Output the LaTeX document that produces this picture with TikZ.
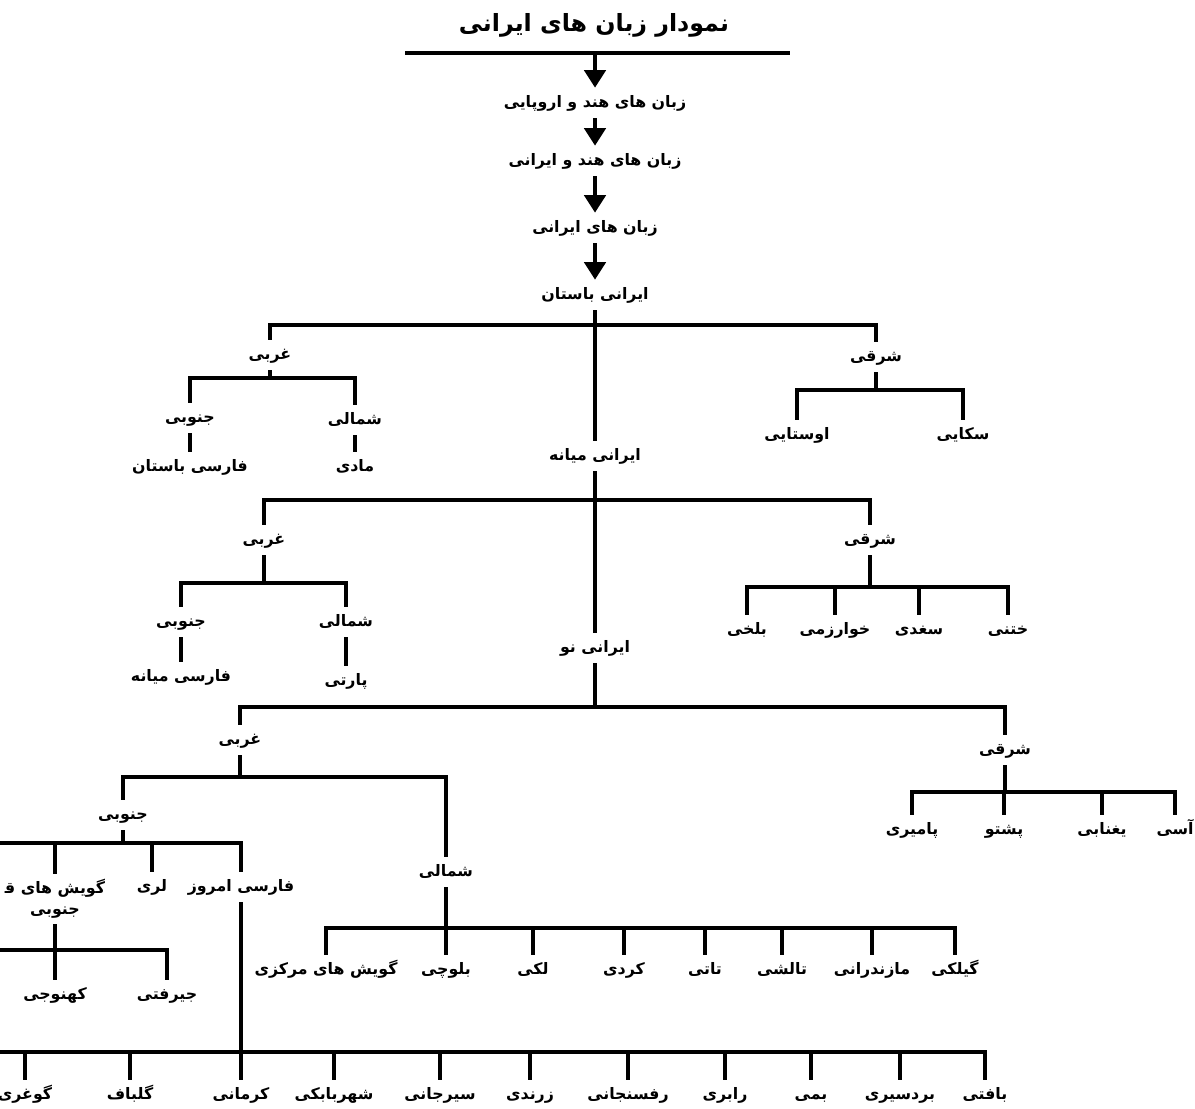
\documentclass[tikz,border=0pt]{standalone}
\usepackage{fontspec}
\newfontfamily\fa[Script=Arabic]{DejaVu Sans}
\TeXXeTstate=1
\usetikzlibrary{arrows.meta}
\newcommand{\fatxt}[1]{\beginR#1\endR}
\tikzset{
  lbl/.style={font=\fa\bfseries\fontsize{9}{12}\selectfont, inner sep=3pt,
    text height=8pt, text depth=3pt},
  ttl/.style={font=\fa\bfseries\fontsize{13.5}{16}\selectfont, inner sep=2pt},
  tree/.style={line width=1.8pt},
  down/.style={line width=2.4pt, -{Triangle[width=12pt,length=10pt]}},
}
\begin{document}
\begin{tikzpicture}[x=0.02cm,y=-0.02cm]
    \useasboundingbox (0,0) rectangle (1195,1108);
    \clip (0,0) rectangle (1195,1108);
    % title and chain
    \node[ttl] (title) at (594,25) {\fatxt{نمودار زبان های ایرانی}};
    \coordinate (tl) at (405,53);
    \coordinate (tr) at (790,53);
    \coordinate (tm) at (595,53);
    \draw[line width=2.6pt] (tl) -- (tr);
    \node[lbl] (indoeu) at (595,103) {\fatxt{زبان های هند و اروپایی}};
    \node[lbl] (indoir) at (595,161) {\fatxt{زبان های هند و ایرانی}};
    \node[lbl] (iran) at (595,228) {\fatxt{زبان های ایرانی}};
    \node[lbl] (bastan) at (595,295) {\fatxt{ایرانی باستان}};
    \draw[down] (tm) -- (indoeu);
    \draw[down] (indoeu) -- (indoir);
    \draw[down] (indoir) -- (iran);
    \draw[down] (iran) -- (bastan);

    % old iranian
    \node[lbl] (ogh) at (270,355) {\fatxt{غربی}};
    \node[lbl] (osh) at (876,357) {\fatxt{شرقی}};
    \node[lbl] (ogj) at (190,418) {\fatxt{جنوبی}};
    \node[lbl] (ogs) at (355,420) {\fatxt{شمالی}};
    \node[lbl] (ofb) at (190,467) {\fatxt{فارسی باستان}};
    \node[lbl] (omd) at (355,467) {\fatxt{مادی}};
    \node[lbl] (osa) at (797,435) {\fatxt{اوستایی}};
    \node[lbl] (osk) at (963,435) {\fatxt{سکایی}};
    \coordinate (b1) at (595,325);
    \coordinate (b2) at (270,378);
    \coordinate (b3) at (876,390);
    \draw[tree] (ogh.north) |- (b1) -| (osh.north);
    \draw[tree] (ogh) -- (ogh |- b2);
    \draw[tree] (ogj.north) |- (b2) -| (ogs.north);
    \draw[tree] (ogj) -- (ofb);
    \draw[tree] (ogs) -- (omd);
    \draw[tree] (osh) -- (osh |- b3);
    \draw[tree] (osa.north) |- (b3) -| (osk.north);

    % middle iranian
    \node[lbl] (mianeh) at (595,456) {\fatxt{ایرانی میانه}};
    \node[lbl] (mgh) at (264,540) {\fatxt{غربی}};
    \node[lbl] (msh) at (870,540) {\fatxt{شرقی}};
    \node[lbl] (mgj) at (181,622) {\fatxt{جنوبی}};
    \node[lbl] (mgs) at (346,622) {\fatxt{شمالی}};
    \node[lbl] (mfm) at (181,677) {\fatxt{فارسی میانه}};
    \node[lbl] (mpa) at (346,681) {\fatxt{پارتی}};
    \node[lbl] (mbl) at (747,630) {\fatxt{بلخی}};
    \node[lbl] (mkh) at (835,630) {\fatxt{خوارزمی}};
    \node[lbl] (msg) at (919,630) {\fatxt{سغدی}};
    \node[lbl] (mkt) at (1008,630) {\fatxt{ختنی}};
    \draw[tree] (bastan) -- (mianeh);
    \coordinate (b4) at (595,500);
    \coordinate (b5) at (264,583);
    \coordinate (b6) at (870,587);
    \draw[tree] (mgh.north) |- (b4) -| (msh.north);
    \draw[tree] (mgh) -- (mgh |- b5);
    \draw[tree] (mgj.north) |- (b5) -| (mgs.north);
    \draw[tree] (mgj) -- (mfm);
    \draw[tree] (mgs) -- (mpa);
    \draw[tree] (msh) -- (msh |- b6);
    \draw[tree] (mbl.north) |- (b6) -| (mkt.north);
    \foreach \n in {mkh,msg}
        \draw[tree] (\n.north) -- (\n.north |- b6);

    % new iranian
    \node[lbl] (now) at (595,648) {\fatxt{ایرانی نو}};
    \node[lbl] (ngh) at (240,740) {\fatxt{غربی}};
    \node[lbl] (nsh) at (1005,750) {\fatxt{شرقی}};
    \node[lbl] (npa) at (912,830) {\fatxt{پامیری}};
    \node[lbl] (nps) at (1004,830) {\fatxt{پشتو}};
    \node[lbl] (nyg) at (1102,830) {\fatxt{یغنابی}};
    \node[lbl] (nas) at (1175,830) {\fatxt{آسی}};
    \draw[tree] (mianeh) -- (now);
    \coordinate (b7) at (595,707);
    \coordinate (b8) at (1005,792);
    \draw[tree] (now) -- (now |- b7);
    \draw[tree] (ngh.north) |- (b7) -| (nsh.north);
    \draw[tree] (nsh) -- (nsh |- b8);
    \draw[tree] (npa.north) |- (b8) -| (nas.north);
    \foreach \n in {nps,nyg}
        \draw[tree] (\n.north) -- (\n.north |- b8);

    % new western
    \node[lbl] (ngj) at (123,815) {\fatxt{جنوبی}};
    \node[lbl] (ngs) at (446,872) {\fatxt{شمالی}};
    \node[lbl, align=center, text height=, text depth=] (ngw) at (55,899)
        {\fatxt{گویش های ق^^^^200d}\\\fatxt{جنوبی}};
    \node[lbl] (nlr) at (152,887) {\fatxt{لری}};
    \node[lbl] (nfe) at (241,887) {\fatxt{فارسی امروز}};
    \node[lbl] (nkh) at (55,995) {\fatxt{کهنوجی}};
    \node[lbl] (njr) at (167,995) {\fatxt{جیرفتی}};
    \coordinate (b9) at (240,777);
    \coordinate (b10) at (123,843);
    \coordinate (e1) at (-10,843);
    \coordinate (e2) at (-10,950);
    \draw[tree] (ngh) -- (ngh |- b9);
    \draw[tree] (ngj.north) |- (b9) -| (ngs.north);
    \draw[tree] (ngj) -- (ngj |- b10);
    \draw[tree] (e1) -| (nfe.north);
    \foreach \n in {ngw,nlr}
        \draw[tree] (\n.north) -- (\n.north |- b10);
    \draw[tree] (ngw) -- (nkh);
    \draw[tree] (e2) -| (njr.north);

    % northern branch
    \node[lbl] (nbl) at (446,970) {\fatxt{بلوچی}};
    \node[lbl] (ngm) at (326,970) {\fatxt{گویش های مرکزی}};
    \node[lbl] (nlk) at (533,970) {\fatxt{لکی}};
    \node[lbl] (nkr) at (624,970) {\fatxt{کردی}};
    \node[lbl] (ntt) at (705,970) {\fatxt{تاتی}};
    \node[lbl] (ntl) at (782,970) {\fatxt{تالشی}};
    \node[lbl] (nmz) at (872,970) {\fatxt{مازندرانی}};
    \node[lbl] (ngl) at (955,970) {\fatxt{گیلکی}};
    \coordinate (b12) at (446,928);
    \draw[tree] (ngs) -- (nbl);
    \draw[tree] (ngm.north) |- (b12) -| (ngl.north);
    \foreach \n in {nlk,nkr,ntt,ntl,nmz}
        \draw[tree] (\n.north) -- (\n.north |- b12);

    % kerman dialects
    \node[lbl] (nkm) at (241,1095) {\fatxt{کرمانی}};
    \node[lbl] (ngo) at (25,1095) {\fatxt{گوغری}};
    \node[lbl] (ngb) at (130,1095) {\fatxt{گلباف}};
    \node[lbl] (nsb) at (334,1095) {\fatxt{شهربابکی}};
    \node[lbl] (nsj) at (440,1095) {\fatxt{سیرجانی}};
    \node[lbl] (nzr) at (530,1095) {\fatxt{زرندی}};
    \node[lbl] (nrf) at (628,1095) {\fatxt{رفسنجانی}};
    \node[lbl] (nrb) at (725,1095) {\fatxt{رابری}};
    \node[lbl] (nbm) at (811,1095) {\fatxt{بمی}};
    \node[lbl] (nbr) at (900,1095) {\fatxt{بردسیری}};
    \node[lbl] (nbf) at (985,1095) {\fatxt{بافتی}};
    \coordinate (e3) at (-10,1052);
    \draw[tree] (nfe) -- (nkm);
    \draw[tree] (e3) -| (nbf.north);
    \foreach \n in {ngo,ngb,nsb,nsj,nzr,nrf,nrb,nbm,nbr}
        \draw[tree] (\n.north) -- (\n.north |- e3);
\end{tikzpicture}
\end{document}
